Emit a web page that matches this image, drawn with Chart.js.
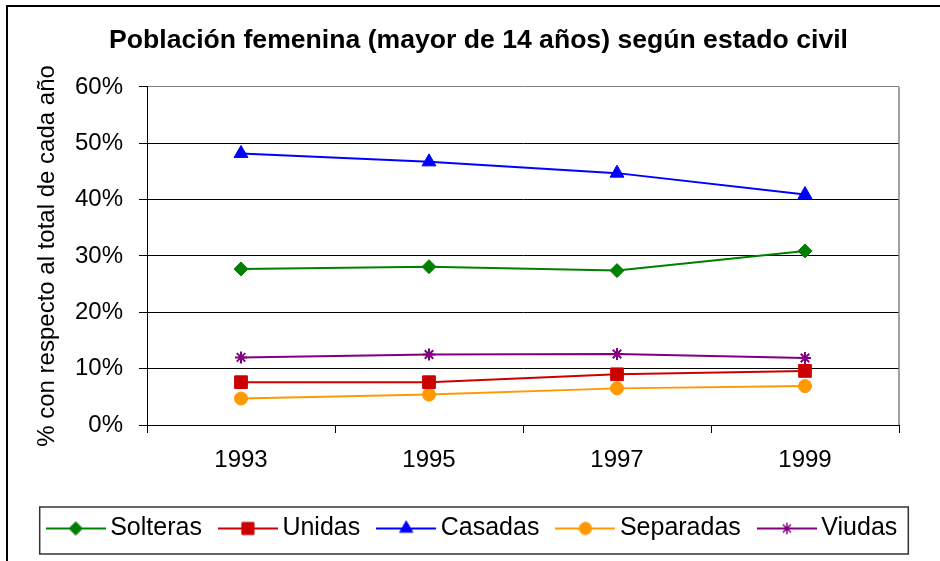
<!DOCTYPE html>
<html>
<head>
<meta charset="utf-8">
<script src="https://cdn.jsdelivr.net/npm/chart.js@4"></script>
<style>
  body { margin: 0; background: #fff; }
  #wrap { width: 940px; height: 561px; position: relative; }
</style>
</head>
<body>
<div id="wrap"><canvas id="myChart"></canvas></div>
<script>
// years on the x axis
const years = ['1993', '1995', '1997', '1999'];
// % of women over 14 per civil status
const solteras = [27.7, 28.1, 27.4, 30.9];
const unidas = [7.6, 7.6, 9.0, 9.6];
const casadas = [48.2, 46.7, 44.7, 40.9];
const separadas = [4.7, 5.4, 6.5, 6.9];
const viudas = [12.0, 12.5, 12.6, 11.9];

const FONT = "'Liberation Sans', Arial, sans-serif";

const SERIES = [
  { label: 'Solteras', data: solteras, color: '#008000', style: 'rectRot', radius: 7 },
  { label: 'Unidas', data: unidas, color: '#CC0000', style: 'rect', radius: 9 },
  { label: 'Casadas', data: casadas, color: '#0000FF', style: 'triangle', radius: 8 },
  { label: 'Separadas', data: separadas, color: '#FF9900', style: 'circle', radius: 6.5 },
  { label: 'Viudas', data: viudas, color: '#800080', style: 'star', radius: 6 }
];

// legend icon = short line with the marker on it
const makeIcon = (s) => {
  const cv = document.createElement('canvas');
  cv.width = 60;
  cv.height = 26;
  const c = cv.getContext('2d');
  c.strokeStyle = s.color;
  c.fillStyle = s.color;
  c.lineWidth = 2;
  c.beginPath();
  c.moveTo(0, 13);
  c.lineTo(60, 13);
  c.stroke();
  c.lineWidth = s.style === 'star' ? 1.5 : 1;
  Chart.helpers.drawPoint(c, { pointStyle: s.style, radius: s.radius * 0.95, rotation: 0, borderWidth: c.lineWidth }, 30, 13);
  return cv;
};
const icons = SERIES.map(makeIcon);

const LEG_PAD = 24;

const decor = {
  id: 'decor',
  afterLayout(chart) {
    chart.titleBlock.left += 29;
    chart.titleBlock.right += 29;
    chart.legend.left += 26;
    chart.legend.right += 26;
  },
  beforeDraw(chart) {
    const c = chart.ctx;
    c.save();
    c.strokeStyle = '#000';
    c.lineWidth = 2;
    c.strokeRect(7, 6, 1000, 1000);
    c.restore();
  },
  beforeDatasetsDraw(chart) {
    const c = chart.ctx;
    const a = chart.chartArea;
    c.save();
    c.strokeStyle = '#808080';
    c.lineWidth = 1.5;
    c.beginPath();
    c.moveTo(a.right, a.top);
    c.lineTo(a.right, a.bottom);
    c.stroke();
    c.restore();
  },
  afterDraw(chart) {
    const lg = chart.legend;
    const lw = lg.lineWidths[0];
    const startX = (lg.left + LEG_PAD + lg.right - lw) / 2;
    const c = chart.ctx;
    c.save();
    c.strokeStyle = '#333';
    c.lineWidth = 1.5;
    const x0 = startX - 14;
    const x1 = startX + lw - LEG_PAD + 11;
    const y0 = lg.top + LEG_PAD - 9;
    const y1 = lg.top + LEG_PAD + 25 + 13;
    c.strokeRect(x0, y0, x1 - x0, y1 - y0);
    c.restore();
  }
};

new Chart(document.getElementById('myChart'), {
  type: 'line',
  data: {
    labels: years,
    datasets: SERIES.map((s) => ({
      label: s.label,
      data: s.data,
      borderColor: s.color,
      backgroundColor: s.color,
      borderWidth: 2,
      pointStyle: s.style,
      pointRadius: s.radius,
      pointBorderWidth: s.style === 'star' ? 2 : 1,
      tension: 0
    }))
  },
  options: {
    responsive: true,
    maintainAspectRatio: false,
    animation: false,
    layout: { padding: { left: 0, right: 41, top: 0, bottom: 10 } },
    plugins: {
      title: {
        display: true,
        text: 'Población femenina (mayor de 14 años) según estado civil',
        color: '#000',
        font: { family: FONT, size: 26.6, weight: 'bold' },
        padding: { top: 25, bottom: 30 }
      },
      legend: {
        position: 'bottom',
        labels: {
          usePointStyle: true,
          pointStyleWidth: 44,
          padding: LEG_PAD,
          color: '#000',
          font: { family: FONT, size: 25 },
          generateLabels: (chart) => chart.data.datasets.map((ds, i) => ({
            text: ds.label,
            pointStyle: icons[i],
            fillStyle: ds.backgroundColor,
            strokeStyle: ds.borderColor,
            lineWidth: 0,
            hidden: false,
            fontColor: '#000',
            datasetIndex: i
          }))
        }
      },
      tooltip: { enabled: false }
    },
    scales: {
      x: {
        offset: true,
        afterFit: (s) => { s.height = 67; },
        grid: { offset: true, drawOnChartArea: false, tickLength: 8, tickColor: '#000' },
        border: { color: '#000', width: 1 },
        ticks: { color: '#000', padding: 13, font: { family: FONT, size: 24 } }
      },
      y: {
        min: 0,
        max: 60,
        afterFit: (s) => { s.width = 147; },
        grid: {
          color: (ctx) => (ctx.tick && ctx.tick.value === 60 ? '#808080' : '#000'),
          tickLength: 8,
          tickColor: '#000'
        },
        border: { color: '#000', width: 1 },
        ticks: {
          stepSize: 10,
          padding: 16,
          color: '#000',
          font: { family: FONT, size: 24 },
          callback: (v) => v + '%'
        },
        title: {
          display: true,
          text: '% con respecto al total de cada año',
          color: '#000',
          font: { family: FONT, size: 24 },
          padding: { top: 33, bottom: 0 }
        }
      }
    }
  },
  plugins: [decor]
});
</script>
</body>
</html>
